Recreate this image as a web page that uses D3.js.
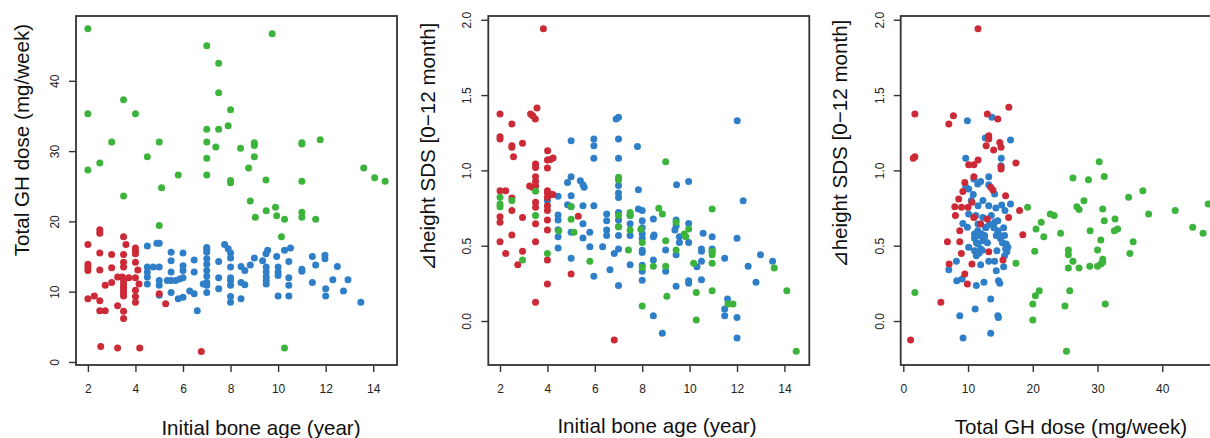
<!DOCTYPE html>
<html lang="en">

<head>
  <meta charset="UTF-8">
  <script src="https://cdn.jsdelivr.net/npm/d3@7"></script>
  <title>Bone age, GH dose and height SDS</title>
  <style>
    body {
      margin: 0;
      background: white;
    }

    text {
      font-family: 'Liberation Sans', Arial, sans-serif;
    }

    .tick text {
      font-size: 12px;
      fill: #222;
    }

    .tick line {
      stroke: #333;
      stroke-width: 1.4;
    }

    .frame {
      fill: none;
      stroke: #333;
      stroke-width: 1.8;
    }

    .title {
      font-size: 20.6px;
      fill: #111;
      text-anchor: middle;
    }
  </style>
</head>

<body>
  <script>
    // group colours (red / blue / green dots)
    const groups = ['red', 'blue', 'green'];
    const groupColors = { red: '#cc2a36', blue: '#2f7fc8', green: '#3cb43c' };

    // tick labels
    const ageTicks = [2, 4, 6, 8, 10, 12, 14];
    const doseTicks = [0, 10, 20, 30, 40];
    const sdsTicks = [0, 0.5, 1, 1.5, 2];

    // panel 1 : initial bone age (year) vs total GH dose (mg/week)
    const p1Red = [[2.5, 18.8], [2.5, 18.3], [2, 16.7], [3.5, 17.8], [3.6, 16.7], [4, 16.2], [4, 15.8], [4, 15.4], [2.5, 15.5], [3, 15.3], [3.5, 15.3], [3.5, 14.2], [4, 14.2], [2, 13.9], [2, 13.5], [2, 13.0], [2.5, 13.1], [3, 13.4], [3.5, 13.5], [4.1, 13.1], [3.25, 12.1], [3.45, 12.1], [3.72, 12.0], [4, 12.0], [3, 11.3], [2.73, 10.9], [3.5, 11.5], [3.5, 11.0], [3.5, 10.6], [3.5, 10.2], [3.5, 9.8], [3.5, 9.4], [4, 10.2], [4, 9.3], [4, 8.5], [4.15, 11.1], [2, 9.0], [2.27, 9.4], [2.5, 8.7], [3.25, 8.0], [2.5, 7.3], [2.73, 7.3], [3.5, 7.2], [3.5, 6.2], [5, 9.7], [5.27, 8.3], [2.54, 2.2], [3.25, 2.0], [4.18, 2.0], [6.77, 1.5]];
    const p1Blue = [[4.5, 16.5], [4.9, 16.9], [5.0, 16.9], [4.5, 13.5], [4.5, 12.8], [4.5, 12.1], [4.5, 11.1], [4.75, 13.5], [5.0, 13.5], [5, 11.6], [5, 10.9], [5, 9.5], [5.5, 15.6], [5.5, 14.4], [5.5, 12.8], [5.5, 11.6], [5.34, 11.6], [5.5, 9.9], [6, 15.5], [6, 13.7], [6, 13.0], [6, 12.0], [5.86, 11.8], [5.69, 11.6], [5.8, 9.0], [6, 9.2], [6.28, 10.1], [6.47, 9.7], [6.47, 14.5], [6.47, 12.8], [6.6, 7.3], [7, 16.3], [7, 16.0], [7, 15.6], [7, 14.7], [7, 13.9], [7, 13.0], [7, 12.2], [7, 11.3], [7, 10.9], [7, 9.9], [6.85, 11.1], [7.5, 12.0], [7.5, 10.4], [7.5, 14.3], [7.75, 16.7], [7.9, 16.1], [8, 15.5], [8, 14.8], [8, 13.5], [8, 12.0], [8, 11.6], [8, 10.9], [8, 9.3], [8, 8.5], [8.44, 13.6], [8.6, 13.0], [8.83, 13.8], [9, 14.8], [8.44, 11.3], [8.6, 11.0], [8.44, 9.0], [9.35, 14.4], [9.49, 15.4], [9.56, 15.9], [9.5, 13.5], [9.5, 12.8], [9.5, 12.1], [9.5, 11.6], [9.5, 11.1], [9.94, 15.0], [10, 13.5], [10, 12.8], [10, 12.3], [10, 9.4], [10.27, 15.9], [10.52, 16.2], [10.45, 14.3], [10.45, 12.0], [10.45, 10.9], [10.45, 9.4], [11, 13.2], [11, 12.9], [11.44, 15.0], [11.97, 15.2], [11.97, 14.7], [11.58, 13.8], [11.44, 11.3], [12.49, 13.6], [12, 10.4], [12, 9.4], [12.3, 11.7], [12.94, 11.7], [12.75, 10.1], [13.48, 8.5]];
    const p1Green = [[2, 47.4], [7, 45.0], [7.5, 42.5], [7.5, 38.3], [8, 35.9], [3.5, 37.3], [2, 35.3], [4, 35.3], [7, 33.1], [7.5, 33.1], [7.9, 33.6], [3, 31.3], [5, 31.3], [7, 31.3], [7.38, 30.6], [8.42, 30.4], [4.5, 29.2], [7, 29.0], [2.5, 28.3], [2, 27.3], [5.8, 26.6], [7, 26.6], [8, 25.8], [8, 25.5], [5.1, 24.8], [3.5, 23.6], [5, 19.4], [9.75, 46.7], [9, 31.2], [9, 30.8], [9, 29.2], [8.76, 27.6], [9.49, 25.9], [11, 31.2], [11, 31.0], [11.77, 31.6], [11, 25.7], [13.6, 27.6], [14.06, 26.2], [14.5, 25.7], [8.83, 22.9], [9.5, 21.5], [9.89, 22.0], [9.04, 20.6], [9.94, 20.8], [10.27, 20.3], [11, 21.3], [11, 20.6], [11.58, 20.3], [10.14, 17.8], [10.27, 2.0]];

    // panel 2 : initial bone age (year) vs delta height SDS
    const p2Red = [[3.83, 1.94], [2, 1.374], [3.29, 1.374], [3.38, 1.363], [3.49, 1.341], [3.56, 1.414], [2.5, 1.308], [2, 1.224], [2, 1.208], [2.5, 1.164], [2.5, 1.153], [2.95, 1.18], [2.57, 1.091], [4.01, 1.131], [4, 1.069], [4.13, 1.073], [4.24, 1.082], [4, 1.016], [3.5, 1.042], [3.5, 1.02], [3.5, 0.958], [3.5, 0.927], [3.25, 0.896], [3.38, 0.887], [3.5, 0.896], [2, 0.865], [2.24, 0.865], [2.5, 0.817], [4, 0.865], [4, 0.85], [4, 0.82], [4.16, 0.84], [4.23, 0.84], [3.5, 0.788], [3.5, 0.755], [4, 0.766], [4, 0.733], [2.5, 0.733], [2.95, 0.688], [2, 0.693], [2, 0.655], [3.5, 0.645], [4, 0.67], [5.3, 0.695], [2.5, 0.571], [4, 0.604], [2, 0.527], [3.5, 0.527], [2.24, 0.449], [2.95, 0.463], [2.75, 0.374], [4, 0.405], [5, 0.312], [4, 0.246], [3.5, 0.124], [6.82, -0.126]];
    const p2Blue = [[5, 1.197], [5.96, 1.208], [5.96, 1.164], [5.96, 1.08], [6.9, 1.341], [7, 1.352], [7, 1.208], [7, 1.08], [7.8, 1.158], [7.84, 0.872], [7, 0.90], [7, 0.85], [7, 0.82], [7, 0.72], [4.85, 0.92], [5, 0.958], [5.39, 0.932], [5.5, 0.905], [5.55, 0.888], [4.45, 0.828], [4.85, 0.772], [5, 0.759], [4, 0.80], [4.45, 0.704], [4.45, 0.67], [4.45, 0.606], [4.45, 0.56], [4.45, 0.484], [5, 0.832], [5, 0.59], [5, 0.416], [5.5, 0.766], [5.5, 0.645], [5.5, 0.551], [5.79, 0.59], [5.79, 0.493], [5.96, 0.766], [6.33, 0.493], [5.96, 0.297], [6.5, 0.71], [6.5, 0.666], [6.5, 0.604], [6.5, 0.567], [6.82, 0.449], [6.64, 0.34], [7, 0.67], [7, 0.626], [7, 0.567], [7, 0.478], [7, 0.235], [7.49, 0.70], [7.49, 0.645], [7.49, 0.567], [7.49, 0.374], [7.84, 0.743], [8, 0.733], [8, 0.666], [8, 0.62], [8, 0.58], [8, 0.55], [8, 0.47], [8, 0.455], [8, 0.37], [8, 0.33], [8, 0.27], [8.47, 0.677], [8.47, 0.56], [8.5, 0.571], [8.47, 0.405], [8.47, 0.035], [8.85, -0.082], [8.99, 0.471], [8.99, 0.33], [9.45, 0.905], [9.43, 0.67], [9.43, 0.633], [9.38, 0.604], [9.57, 0.56], [9.57, 0.522], [9.43, 0.44], [9.43, 0.23], [9.96, 0.927], [9.96, 0.648], [9.96, 0.522], [9.96, 0.268], [9.96, 0.25], [10.31, 0.36], [10.5, 0.478], [10.5, 0.463], [10.5, 0.396], [10.5, 0.274], [10.57, 0.582], [10.95, 0.56], [10.95, 0.478], [10.95, 0.46], [11.48, 0.416], [11.48, 0.08], [11.48, 0.035], [11.6, 0.146], [12.01, 1.33], [12, 0.549], [12, 0.024], [12, -0.113], [12.26, 0.799], [12.47, 0.363], [12.8, 0.257], [12.99, 0.44], [13.5, 0.396]];
    const p2Green = [[2, 0.821], [2, 0.777], [2, 0.759], [2.5, 0.80], [3.5, 0.861], [3.5, 0.70], [4, 0.449], [2.95, 0.405], [4.48, 0.60], [5, 0.761], [5, 0.675], [5.12, 0.59], [5.79, 0.396], [7, 0.954], [7, 0.936], [7, 0.70], [7, 0.626], [7.49, 0.72], [7.49, 0.70], [7.49, 0.604], [7.42, 0.471], [7.94, 0.61], [8, 0.522], [8, 0.356], [8, 0.10], [8.99, 1.058], [8.7, 0.748], [8.85, 0.71], [9.43, 0.655], [8.99, 0.533], [8.99, 0.363], [9.04, 0.164], [8.47, 0.363], [9.43, 0.471], [9.77, 0.578], [9.84, 0.56], [9.96, 0.611], [10.17, 0.383], [10.28, 0.19], [10.28, 0.007], [10.95, 0.744], [10.95, 0.463], [10.95, 0.44], [10.95, 0.383], [10.95, 0.201], [11.62, 0.113], [11.83, 0.113], [13.57, 0.352], [14.1, 0.201], [14.5, -0.201]];

    // panel 3 : total GH dose (mg/week) vs delta height SDS
    const p3Red = [[11.54, 1.94], [1.79, 1.374], [7.74, 1.363], [7.03, 1.308], [12.97, 1.374], [14.6, 1.341], [16.3, 1.419], [13.2, 1.23], [13.2, 1.208], [12.8, 1.164], [14.9, 1.186], [15.1, 1.153], [13.95, 1.135], [1.79, 1.091], [1.54, 1.08], [11.54, 1.069], [10.1, 1.038], [10.9, 1.038], [17.4, 1.049], [15.1, 1.025], [15.1, 1.009], [10.9, 0.958], [9.5, 0.92], [9.2, 0.86], [13.5, 0.888], [13.85, 0.87], [15.8, 0.832], [8.56, 0.81], [9, 0.755], [10, 0.755], [7.95, 0.759], [10.6, 0.788], [16.26, 0.688], [17.95, 0.733], [8.05, 0.70], [10.9, 0.688], [11.95, 0.644], [12.97, 0.677], [8.72, 0.60], [18.46, 0.573], [6.82, 0.527], [8.72, 0.527], [8.97, 0.449], [13.2, 0.46], [7.08, 0.378], [10.6, 0.378], [15.4, 0.405], [9.5, 0.312], [9.9, 0.246], [5.8, 0.124], [1.13, -0.126]];
    const p3Blue = [[9.9, 1.33], [13.7, 1.352], [12.67, 1.215], [16.56, 1.202], [9.64, 1.08], [15.13, 1.08], [15.1, 1.03], [13.2, 0.958], [10.9, 0.943], [11.5, 0.91], [11.95, 0.927], [9.64, 0.892], [10.1, 0.876], [13.2, 0.905], [14.1, 0.843], [11.54, 0.766], [12.3, 0.80], [13.2, 0.766], [15.2, 0.77], [15.7, 0.733], [16.56, 0.777], [10.1, 0.71], [14.6, 0.666], [9.2, 0.648], [11.54, 0.644], [12.3, 0.688], [9.9, 0.622], [11.0, 0.578], [11.8, 0.567], [12.56, 0.567], [11.54, 0.511], [12.8, 0.622], [12.3, 0.533], [14.1, 0.655], [14.36, 0.567], [14.6, 0.60], [15.64, 0.567], [15.9, 0.511], [16.15, 0.489], [10.1, 0.49], [11.0, 0.467], [11.28, 0.434], [11.95, 0.478], [14.46, 0.467], [15.64, 0.434], [8.2, 0.396], [7.03, 0.341], [11.95, 0.374], [13.2, 0.396], [14.1, 0.396], [14.36, 0.334], [15.5, 0.36], [8.26, 0.268], [9.08, 0.279], [11.28, 0.235], [12.46, 0.257], [14.7, 0.268], [14.9, 0.25], [13.5, 0.146], [11.1, 0.08], [8.72, 0.035], [14.6, 0.035], [14.7, 0.024], [9.23, -0.113], [13.5, -0.082], [11.0, 0.55], [11.5, 0.60], [12.0, 0.58], [12.5, 0.55], [13.0, 0.52], [12.7, 0.62], [14.7, 0.58], [15.0, 0.55], [15.3, 0.52], [14.0, 0.62], [13.3, 0.64], [15.8, 0.48], [16.0, 0.46], [11.3, 0.52], [11.7, 0.45], [12.2, 0.47], [10.5, 0.80], [10.8, 0.84], [11.2, 0.7], [13.6, 0.70], [14.3, 0.75], [15.5, 0.62]];
    const p3Green = [[1.79, 0.19], [17.4, 0.383], [19.2, 0.755], [20.3, 0.463], [20.0, 0.113], [20.4, 0.168], [21.0, 0.201], [20.0, 0.007], [20.5, 0.611], [21.3, 0.655], [21.7, 0.56], [22.7, 0.71], [23.3, 0.70], [24.3, 0.582], [25.5, 0.471], [25.5, 0.44], [26.2, 0.396], [25.5, 0.352], [27.15, 0.352], [25.7, 0.201], [24.97, 0.10], [25.2, -0.201], [26.2, 0.95], [28.6, 0.938], [30.26, 1.058], [31.04, 0.96], [26.8, 0.759], [27.15, 0.741], [27.9, 0.799], [30.8, 0.744], [31.04, 0.666], [28.86, 0.60], [30.5, 0.538], [30.0, 0.471], [30.8, 0.41], [30.8, 0.39], [30.5, 0.378], [28.8, 0.363], [30.0, 0.363], [31.2, 0.113], [32.7, 0.677], [32.6, 0.60], [33.1, 0.611], [34.8, 0.821], [37.0, 0.865], [37.9, 0.71], [35.5, 0.527], [35.0, 0.449], [42.0, 0.733], [44.7, 0.622], [46.3, 0.582], [47.1, 0.777]];

    const width = 1210, height = 438;
    const svg = d3.select('body').append('svg').attr('width', width).attr('height', height);

    // box, domains and label placement for each panel
    const panels = [
      {
        left: 76, right: 397, top: 16, bottom: 365,
        xDomain: [1.5, 15], yDomain: [-0.43, 49.22], xTicks: ageTicks, yTicks: doseTicks, yFmt: d3.format('d'),
        data: { red: p1Red, blue: p1Blue, green: p1Green },
        xTitle: 'Initial bone age (year)', xTitleX: 261, xTitleY: 435,
        yTitle: 'Total GH dose (mg/week)', yTitleX: 29, yTitleY: 140
      },
      {
        left: 488.3, right: 809.3, top: 16, bottom: 365,
        xDomain: [1.506, 15.05], yDomain: [-0.292, 2.025], xTicks: ageTicks, yTicks: sdsTicks, yFmt: d3.format('.1f'),
        data: { red: p2Red, blue: p2Blue, green: p2Green },
        xTitle: 'Initial bone age (year)', xTitleX: 657, xTitleY: 433,
        yTitle: '⊿height SDS [0−12 month]', yTitleX: 435, yTitleY: 147
      },
      {
        left: 900.7, right: 1221, top: 16, bottom: 365,
        xDomain: [-0.4, 49.07], yDomain: [-0.292, 2.025], xTicks: doseTicks, yTicks: sdsTicks, yFmt: d3.format('.1f'),
        data: { red: p3Red, blue: p3Blue, green: p3Green },
        xTitle: 'Total GH dose (mg/week)', xTitleX: 1071, xTitleY: 434,
        yTitle: '⊿height SDS [0−12 month]', yTitleX: 847, yTitleY: 144
      }
    ];

    panels.forEach(p => {
      const x = d3.scaleLinear().domain(p.xDomain).range([p.left, p.right]);
      const y = d3.scaleLinear().domain(p.yDomain).range([p.bottom, p.top]);
      const g = svg.append('g');

      // dots: blue first, then red, then green on top
      ['blue', 'red', 'green'].forEach(k => {
        g.append('g').selectAll('circle')
          .data(p.data[k])
          .enter().append('circle')
          .attr('cx', d => x(d[0])).attr('cy', d => y(d[1]))
          .attr('r', 3.5)
          .style('fill', groupColors[k]);
      });

      g.append('rect').attr('class', 'frame')
        .attr('x', p.left).attr('y', p.top)
        .attr('width', p.right - p.left).attr('height', p.bottom - p.top);

      const axisX = d3.axisBottom(x).tickValues(p.xTicks).tickSize(7).tickPadding(12).tickSizeOuter(0);
      const gx = g.append('g').attr('transform', `translate(0,${p.bottom})`).call(axisX);
      gx.select('.domain').remove();

      const axisY = d3.axisLeft(y).tickValues(p.yTicks).tickFormat(p.yFmt).tickSize(7).tickSizeOuter(0);
      const gy = g.append('g').attr('transform', `translate(${p.left},0)`).call(axisY);
      gy.select('.domain').remove();
      gy.selectAll('.tick text')
        .attr('x', 0).attr('dy', 0)
        .attr('text-anchor', 'middle')
        .attr('transform', 'translate(-17,0) rotate(-90)');

      g.append('text').attr('class', 'title')
        .attr('x', p.xTitleX).attr('y', p.xTitleY)
        .text(p.xTitle);
      g.append('text').attr('class', 'title')
        .attr('transform', `translate(${p.yTitleX},${p.yTitleY}) rotate(-90)`)
        .text(p.yTitle);
    });
  </script>
</body>

</html>
